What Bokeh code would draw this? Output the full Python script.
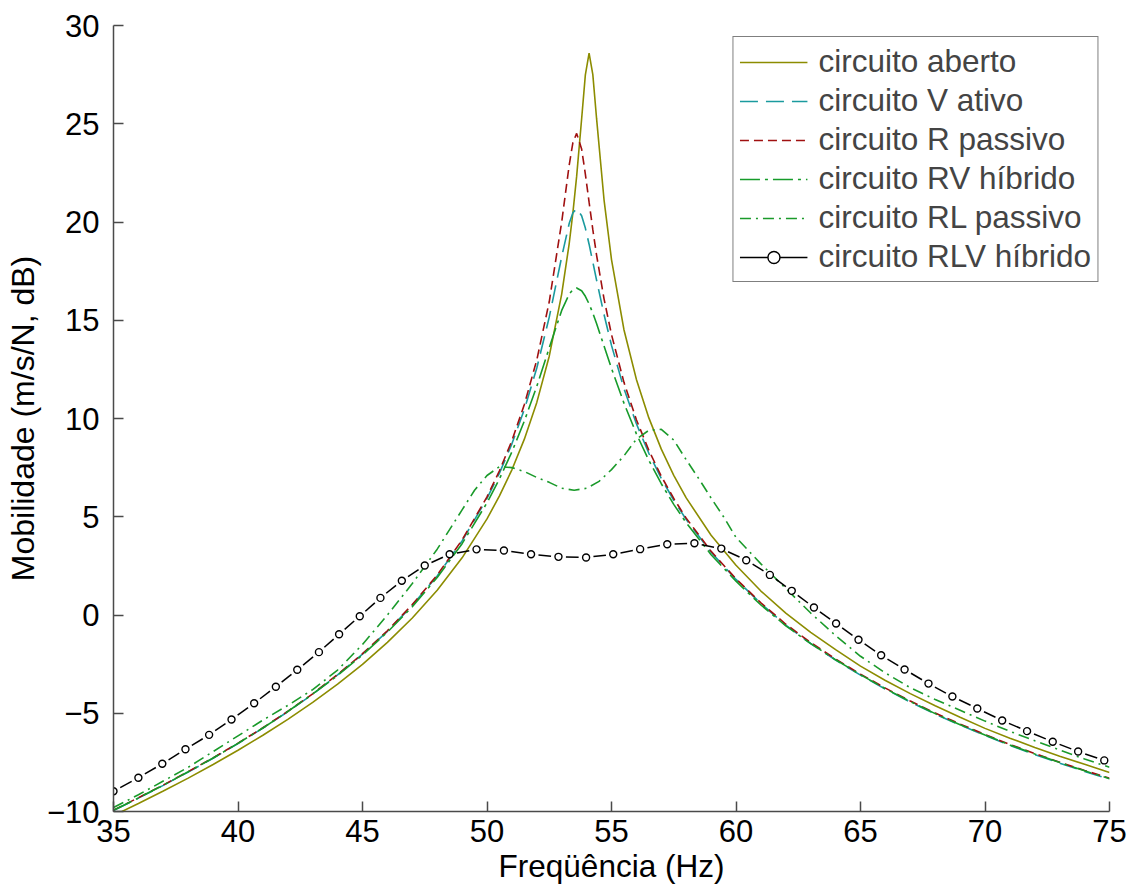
import numpy as np
from bokeh.plotting import figure
from bokeh.models import FixedTicker, Legend, LegendItem, Range1d
from bokeh.embed import file_html
from bokeh.resources import INLINE

# ---------------- data ----------------
freq = [35, 36, 37, 38, 39, 40, 41, 42, 43, 44, 45, 46, 47, 48, 49, 50, 50.5, 51, 51.5, 52,
        52.5, 53, 53.3, 53.45, 53.6, 53.8, 53.95, 54.1, 54.25, 54.4, 54.7, 55, 55.5, 56, 56.5,
        57, 57.5, 58, 59, 60, 61, 62, 63, 64, 65, 66, 67, 68, 69, 70, 71, 72, 73, 74, 75]

aberto = [-10.21, -9.59, -8.96, -8.30, -7.61, -6.88, -6.12, -5.31, -4.45, -3.52, -2.51, -1.39,
          -0.15, 1.26, 2.91, 4.89, 6.06, 7.39, 8.95, 10.82, 13.17, 16.33, 18.89, 20.47, 22.32,
          25.24, 27.49, 28.59, 27.50, 25.27, 21.13, 18.09, 14.52, 11.99, 10.03, 8.44, 7.11, 5.96,
          4.06, 2.53, 1.22, 0.10, -0.88, -1.76, -2.60, -3.33, -4.00, -4.62, -5.20, -5.77, -6.27,
          -6.74, -7.19, -7.60, -8.02]

v_ativo = [-9.95, -9.32, -8.67, -7.99, -7.29, -6.54, -5.76, -4.92, -4.03, -3.05, -1.99, -0.83,
           0.49, 1.99, 3.77, 5.93, 7.22, 8.71, 10.46, 12.57, 15.16, 18.23, 19.92, 20.47, 20.67,
           20.32, 19.69, 18.87, 17.96, 17.04, 15.29, 13.72, 11.52, 9.73, 8.23, 6.95, 5.84, 4.86,
           3.19, 1.81, 0.58, -0.52, -1.45, -2.29, -3.06, -3.77, -4.43, -5.04, -5.60, -6.13,
           -6.64, -7.10, -7.54, -7.96, -8.36]

r_passivo = [-9.93, -9.30, -8.65, -7.97, -7.27, -6.52, -5.74, -4.90, -4.01, -3.03, -1.97, -0.80,
             0.53, 2.03, 3.82, 6.01, 7.34, 8.87, 10.71, 12.98, 15.94, 20.00, 22.89, 24.04, 24.51,
             23.72, 22.44, 21.01, 19.61, 18.32, 16.09, 14.27, 11.84, 9.94, 8.38, 7.06, 5.93, 4.93,
             3.24, 1.84, 0.62, -0.47, -1.40, -2.24, -3.01, -3.72, -4.38, -4.99, -5.55, -6.08,
             -6.59, -7.05, -7.49, -7.91, -8.31]

rv_hibrido = [-9.94, -9.31, -8.66, -7.98, -7.28, -6.53, -5.75, -4.91, -4.02, -3.08, -2.03, -0.87,
              0.42, 1.91, 3.63, 5.71, 6.93, 8.30, 9.87, 11.64, 13.60, 15.50, 16.33, 16.56, 16.64,
              16.50, 16.22, 15.83, 15.36, 14.83, 13.69, 12.55, 10.78, 9.22, 7.87, 6.68, 5.63,
              4.69, 3.07, 1.72, 0.51, -0.55, -1.46, -2.28, -3.04, -3.75, -4.41, -5.02, -5.58,
              -6.11, -6.61, -7.07, -7.51, -7.93, -8.33]

freq_rl = [35, 36, 37, 38, 39, 40, 41, 42, 43, 44, 45, 46, 47, 48, 49, 49.5, 50, 50.5, 51, 51.5,
           52, 52.5, 53, 53.5, 54, 54.5, 55, 55.5, 56, 56.5, 57, 57.5, 58, 58.5, 59, 59.5, 60,
           61, 62, 63, 64, 65, 66, 67, 68, 69, 70, 71, 72, 73, 74, 75]
rl_passivo = [-9.80, -9.15, -8.45, -7.75, -6.95, -6.15, -5.35, -4.60, -3.80, -2.80, -1.50, 0.00,
              1.60, 3.35, 5.35, 6.35, 7.10, 7.55, 7.50, 7.30, 7.00, 6.75, 6.45, 6.35, 6.45, 6.80,
              7.40, 8.10, 8.95, 9.40, 9.45, 8.90, 7.90, 6.95, 5.95, 5.00, 3.95, 2.60, 1.35, 0.10,
              -1.05, -2.10, -2.95, -3.70, -4.30, -4.85, -5.40, -5.92, -6.40, -6.87, -7.33, -7.75]

freq_rlv = [35.0, 36.0, 36.96, 37.89, 38.84, 39.74, 40.65, 41.52, 42.38, 43.25, 44.06, 44.89,
            45.72, 46.58, 47.5, 48.5, 49.58, 50.68, 51.77, 52.87, 53.98, 55.07, 56.15, 57.24,
            58.33, 59.41, 60.41, 61.36, 62.24, 63.13, 64.02, 64.92, 65.83, 66.77, 67.73, 68.69,
            69.69, 70.69, 71.69, 72.72, 73.74, 74.79]
rlv_hibrido = [-8.97, -8.28, -7.57, -6.83, -6.10, -5.32, -4.49, -3.65, -2.79, -1.89, -0.98, -0.06,
               0.87, 1.74, 2.52, 3.09, 3.34, 3.28, 3.09, 2.96, 2.93, 3.09, 3.35, 3.60, 3.65, 3.38,
               2.79, 2.04, 1.23, 0.38, -0.43, -1.26, -2.05, -2.77, -3.49, -4.15, -4.76, -5.37,
               -5.91, -6.45, -6.95, -7.40]

x_ticks = [35, 40, 45, 50, 55, 60, 65, 70, 75]
y_ticks = [-10, -5, 0, 5, 10, 15, 20, 25, 30]
y_tick_labels = {-10: "\u221210", -5: "\u22125"}

labels = ["circuito aberto", "circuito V ativo", "circuito R passivo",
          "circuito RV h\u00edbrido", "circuito RL passivo", "circuito RLV h\u00edbrido"]

FONT = "Liberation Sans"

# ---------------- figure ----------------
p = figure(width=1131, height=886, output_backend="svg", toolbar_location=None,
           x_range=Range1d(35, 75), y_range=Range1d(-10, 30),
           min_border_left=113, min_border_right=22, min_border_top=25, min_border_bottom=75)
p.outline_line_color = None
p.xgrid.visible = False
p.ygrid.visible = False
p.background_fill_color = "white"
p.border_fill_color = "white"

r1 = p.line(freq, aberto, line_color="#8c8c00", line_width=1.6)
r2 = p.line(freq, v_ativo, line_color="#1a9a9e", line_width=1.6, line_dash="18 8")
r3 = p.line(freq, r_passivo, line_color="#a01010", line_width=1.6, line_dash="9 5")
r4 = p.line(freq, rv_hibrido, line_color="#169b2a", line_width=1.6, line_dash="20 5 3 5")
r5 = p.line(freq_rl, rl_passivo, line_color="#1a9a2a", line_width=1.6, line_dash="11 5 2 5")

fr = np.array(freq_rlv)
yr = np.array(rlv_hibrido)
dfx = np.diff(fr)
dfy = np.diff(yr)
r6a = p.segment(x0=fr[:-1] + 0.27 * dfx, y0=yr[:-1] + 0.27 * dfy,
                x1=fr[:-1] + 0.73 * dfx, y1=yr[:-1] + 0.73 * dfy,
                line_color="black", line_width=1.5)
r6b = p.scatter(freq_rlv, rlv_hibrido, marker="circle", size=7, line_color="black",
                line_width=1.4, fill_color="white")

# axes
for ax in (p.xaxis[0], p.yaxis[0]):
    ax.axis_line_color = "#4a4a4a"
    ax.axis_line_width = 1.5
    ax.major_tick_line_color = "#4a4a4a"
    ax.major_tick_line_width = 1.5
    ax.major_tick_in = 10
    ax.major_tick_out = 0
    ax.minor_tick_line_color = None
    ax.major_label_text_font = FONT
    ax.major_label_text_font_size = "31px"
    ax.major_label_text_color = "black"
    ax.axis_label_text_font = FONT
    ax.axis_label_text_font_style = "normal"
    ax.axis_label_text_color = "black"

p.xaxis.ticker = FixedTicker(ticks=x_ticks)
p.yaxis.ticker = FixedTicker(ticks=y_ticks)
p.yaxis.major_label_overrides = y_tick_labels
p.xaxis.axis_label = "Freq\u00fc\u00eancia (Hz)"
p.yaxis.axis_label = "Mobilidade (m/s/N, dB)"
p.xaxis.axis_label_text_font_size = "31.5px"
p.yaxis.axis_label_text_font_size = "32px"
p.xaxis.major_label_standoff = 8
p.xaxis.axis_label_standoff = 3
p.yaxis.major_label_standoff = 14
p.yaxis.axis_label_standoff = 3

legend = Legend(items=[
    LegendItem(label=labels[0], renderers=[r1]),
    LegendItem(label=labels[1], renderers=[r2]),
    LegendItem(label=labels[2], renderers=[r3]),
    LegendItem(label=labels[3], renderers=[r4]),
    LegendItem(label=labels[4], renderers=[r5]),
    LegendItem(label=labels[5], renderers=[r6a, r6b]),
], location="top_right", margin=11)
legend.border_line_color = "black"
legend.border_line_width = 1.3
legend.background_fill_color = "white"
legend.background_fill_alpha = 1.0
legend.label_text_font = FONT
legend.label_text_font_size = "31.5px"
legend.glyph_width = 68
legend.glyph_height = 30
legend.label_height = 30
legend.spacing = 2
legend.padding = 6
legend.label_standoff = 11
p.add_layout(legend)

open("out.html", "w").write(file_html(p, INLINE))
